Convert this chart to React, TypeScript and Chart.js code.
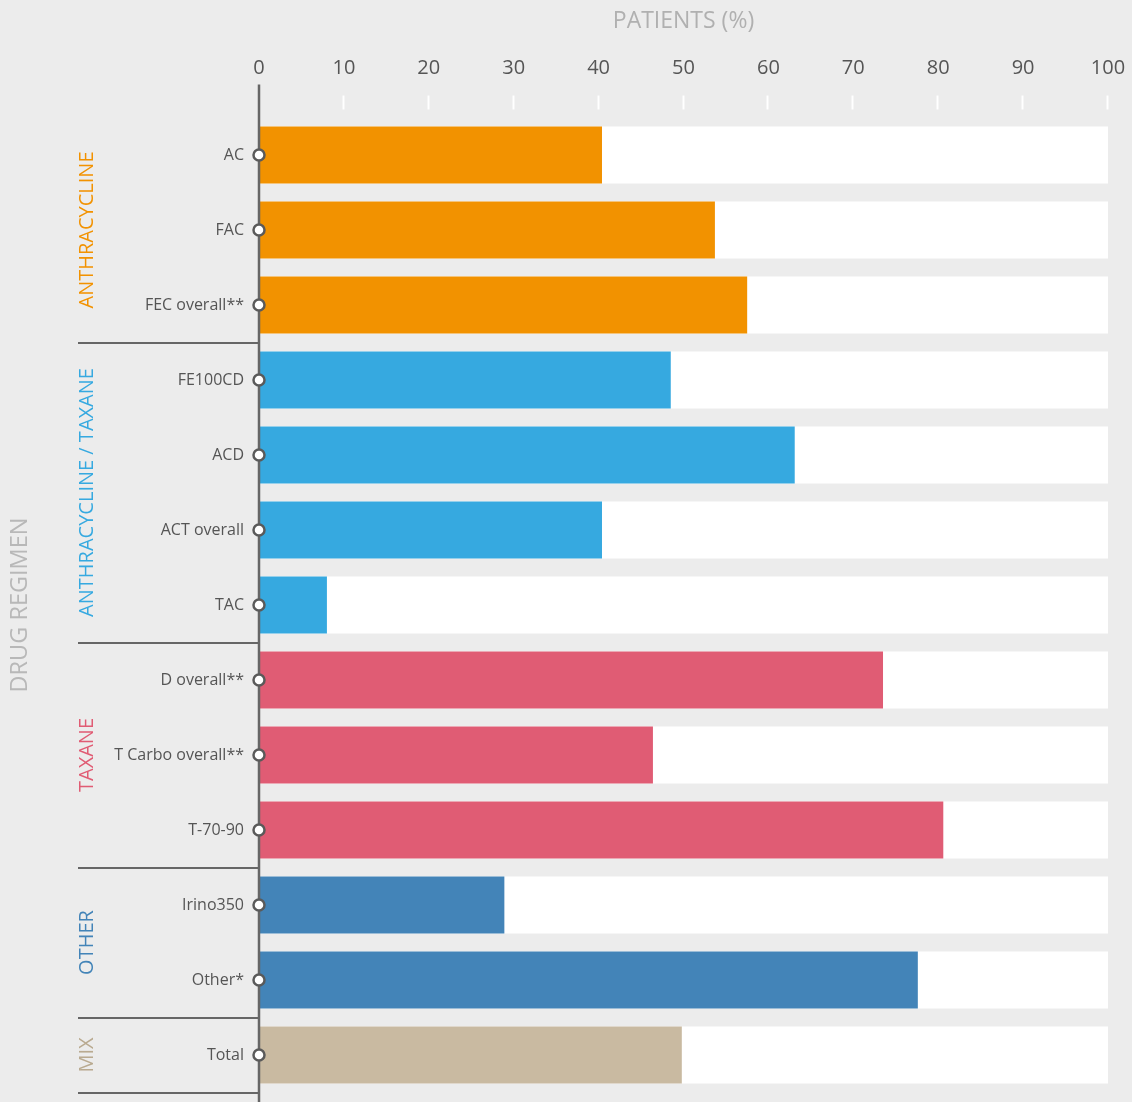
import React, { useEffect, useRef } from "react";
import { Chart, registerables } from "chart.js";

Chart.register(...registerables);

const categories = [
  "AC", "FAC", "FEC overall**",
  "FE100CD", "ACD", "ACT overall", "TAC",
  "D overall**", "T Carbo overall**", "T-70-90",
  "Irino350", "Other*",
  "Total",
];
const values = [40.4, 53.7, 57.5, 48.5, 63.1, 40.4, 8.0, 73.5, 46.4, 80.6, 28.9, 77.6, 49.8];
const groupNames = ["ANTHRACYCLINE", "ANTHRACYCLINE / TAXANE", "TAXANE", "OTHER", "MIX"];
const groupSizes = [3, 4, 3, 2, 1];
const groupColors = ["#f29200", "#36a9e0", "#e05c74", "#4384b8", "#c9baa1"];
const groupLabelColors = ["#f29200", "#36a9e0", "#e05c74", "#4384b8", "#b9aa90"];
const xTicks = [0, 10, 20, 30, 40, 50, 60, 70, 80, 90, 100];
const xMax = 100;
const xTitle = "PATIENTS (%)";
const yTitle = "DRUG REGIMEN";

const FONT = "'Open Sans', 'DejaVu Sans', sans-serif";

const barColors: string[] = [];
groupSizes.forEach((n, g) => {
  for (let i = 0; i < n; i++) barColors.push(groupColors[g]);
});
const trackValues = categories.map(() => xMax);

const zeroPadding = (scale: any) => {
  scale.paddingLeft = 0;
  scale.paddingRight = 0;
  scale.paddingTop = 0;
  scale.paddingBottom = 0;
};

const decorPlugin = {
  id: "decor",
  afterDatasetsDraw(chart: any) {
    const { ctx, chartArea, scales } = chart;
    const xs = scales.x;
    const ys = scales.y;
    const x0 = xs.getPixelForValue(0);
    ctx.save();

    // white tick marks above chart area
    ctx.strokeStyle = "#ffffff";
    ctx.lineWidth = 2;
    xTicks.forEach((v) => {
      if (v === 0) return;
      const x = Math.round(xs.getPixelForValue(v)) - 0.5;
      ctx.beginPath();
      ctx.moveTo(x, chartArea.top - 22);
      ctx.lineTo(x, chartArea.top - 8);
      ctx.stroke();
    });

    // group separators and labels
    const boundaries: number[] = [chartArea.top];
    let idx = 0;
    groupSizes.forEach((n) => {
      idx += n;
      if (idx >= categories.length) {
        boundaries.push(chartArea.bottom);
      } else {
        boundaries.push((ys.getPixelForValue(idx - 1) + ys.getPixelForValue(idx)) / 2);
      }
    });
    ctx.strokeStyle = "#666666";
    ctx.lineWidth = 2;
    for (let b = 1; b < boundaries.length; b++) {
      const y = Math.round(boundaries[b]);
      ctx.beginPath();
      ctx.moveTo(x0 - 181, y);
      ctx.lineTo(x0, y);
      ctx.stroke();
    }
    groupNames.forEach((name, g) => {
      const cy = (boundaries[g] + boundaries[g + 1]) / 2;
      ctx.save();
      ctx.translate(x0 - 172, cy);
      ctx.rotate(-Math.PI / 2);
      ctx.fillStyle = groupLabelColors[g];
      ctx.font = `20px ${FONT}`;
      ctx.textAlign = "center";
      ctx.textBaseline = "middle";
      ctx.fillText(name, 0, 0);
      ctx.restore();
    });

    // vertical axis line
    ctx.strokeStyle = "#666666";
    ctx.lineWidth = 2.5;
    ctx.beginPath();
    ctx.moveTo(x0, chartArea.top - 33);
    ctx.lineTo(x0, chart.height);
    ctx.stroke();

    // circles
    categories.forEach((_, i) => {
      const y = ys.getPixelForValue(i);
      ctx.beginPath();
      ctx.arc(x0, y, 5.5, 0, Math.PI * 2);
      ctx.fillStyle = "#ffffff";
      ctx.fill();
      ctx.strokeStyle = "#5a5a5a";
      ctx.lineWidth = 2.5;
      ctx.stroke();
    });
    ctx.restore();
  },
};

export default function App() {
  const ref = useRef<HTMLCanvasElement | null>(null);
  useEffect(() => {
    if (!ref.current) return;
    const chart = new Chart(ref.current, {
      type: "bar",
      data: {
        labels: categories,
        datasets: [
          {
            data: values,
            backgroundColor: barColors,
            borderWidth: 0,
            barPercentage: 0.76,
            categoryPercentage: 1,
            grouped: false,
            order: 1,
          },
          {
            data: trackValues,
            backgroundColor: "#ffffff",
            borderWidth: 0,
            barPercentage: 0.76,
            categoryPercentage: 1,
            grouped: false,
            order: 2,
          },
        ],
      },
      options: {
        indexAxis: "y",
        responsive: false,
        animation: false,
        layout: { padding: { left: 0, right: 24, top: 0, bottom: 9.5 } },
        plugins: {
          legend: { display: false },
          tooltip: { enabled: false },
        },
        scales: {
          x: {
            position: "top",
            min: 0,
            max: xMax,
            afterBuildTicks: (scale: any) => {
              scale.ticks = xTicks.map((v) => ({ value: v }));
            },
            afterFit: (scale: any) => {
              scale.height = 117.5;
              zeroPadding(scale);
            },
            grid: { display: false, drawTicks: false },
            border: { display: false },
            ticks: {
              color: "#555555",
              font: { family: FONT, size: 20 },
              padding: 37,
              maxRotation: 0,
              autoSkip: false,
            },
            title: {
              display: true,
              text: xTitle,
              color: "#b0b0b0",
              font: { family: FONT, size: 23 },
              padding: { top: 8, bottom: 0 },
            },
          },
          y: {
            afterFit: (scale: any) => {
              scale.width = 259;
              zeroPadding(scale);
            },
            grid: { display: false, drawTicks: false },
            border: { display: false },
            ticks: {
              color: "#555555",
              font: { family: FONT, size: 16 },
              padding: 15,
              autoSkip: false,
            },
            title: {
              display: true,
              text: yTitle,
              color: "#b8b8b8",
              font: { family: FONT, size: 23.5 },
              padding: { top: 6, bottom: 0 },
            },
          },
        },
      },
      plugins: [decorPlugin],
    } as any);
    return () => chart.destroy();
  }, []);

  return (
    <div
      style={{
        position: "absolute",
        left: 0,
        top: 0,
        width: 1132,
        height: 1102,
        background: "#ececec",
      }}
    >
      <canvas ref={ref} width={1132} height={1102} style={{ display: "block" }} />
    </div>
  );
}
